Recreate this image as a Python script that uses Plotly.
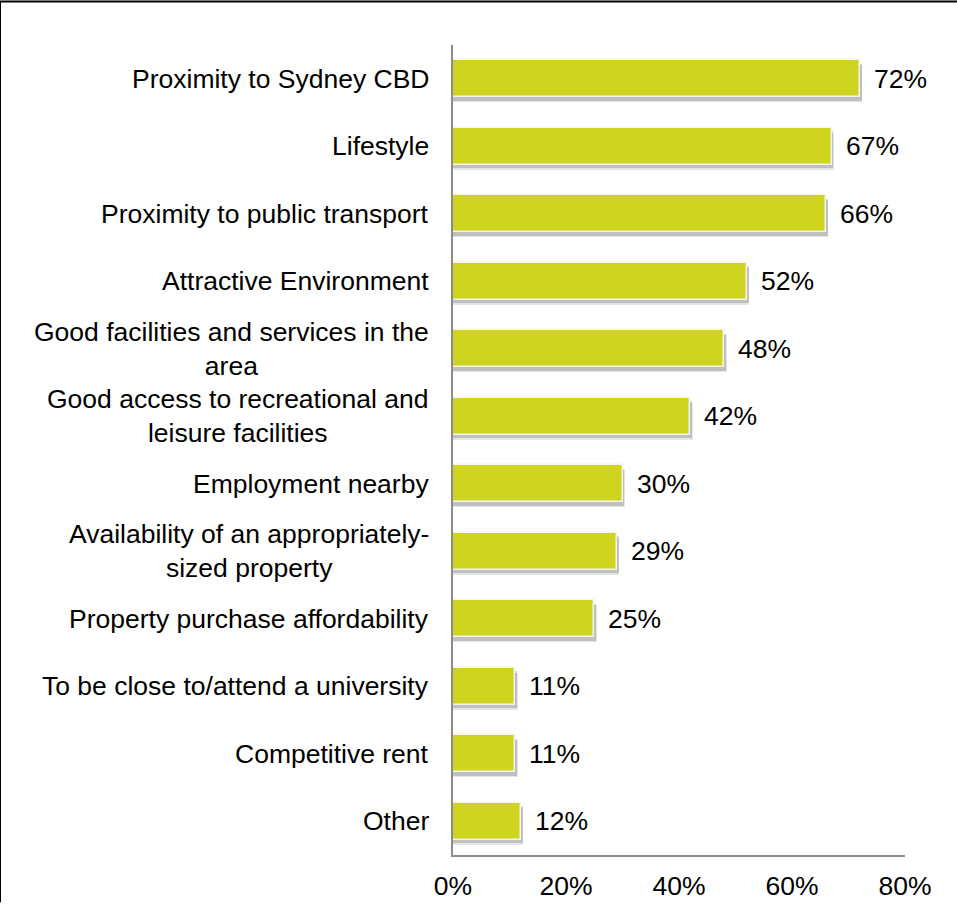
import plotly.graph_objects as go

# Reasons for choosing the area (share of respondents, %)
categories = [
    "Proximity to Sydney CBD",
    "Lifestyle",
    "Proximity to public transport",
    "Attractive Environment",
    "Good facilities and services in the<br>area",
    "Good access to recreational and<br>leisure facilities",
    "Employment nearby",
    "Availability of an appropriately-<br>sized property",
    "Property purchase affordability",
    "To be close to/attend a university",
    "Competitive rent",
    "Other",
]
values = [72, 67, 66, 52, 48, 42, 30, 29, 25, 11, 11, 12]
x_ticks = [0, 20, 40, 60, 80]
x_tick_labels = ["0%", "20%", "40%", "60%", "80%"]

BAR_COLOR = "#CFD420"
FONT = "Liberation Sans, Arial, sans-serif"
FS = 26.5
BAR_W = 0.55

fig = go.Figure()

# soft drop shadow under each bar (two layers for a faded edge)
for off, alpha, ext in [(0.075, 0.10, 0.45), (0.05, 0.16, 0.3)]:
    fig.add_trace(go.Bar(
        y=categories, x=[v + ext for v in values], orientation="h",
        width=BAR_W, offset=-BAR_W / 2 + off,
        marker=dict(color=f"rgba(0,0,0,{alpha})", line=dict(width=0)),
        hoverinfo="skip", showlegend=False,
    ))

fig.add_trace(go.Bar(
    y=categories, x=values, orientation="h",
    width=BAR_W, offset=-BAR_W / 2,
    marker=dict(color=BAR_COLOR, line=dict(color="#F4F4EC", width=1.5)),
    showlegend=False,
))

annotations = []
for cat, v in zip(categories, values):
    annotations.append(dict(
        x=v, y=cat, xref="x", yref="y", text=f"{v}%", showarrow=False,
        xanchor="left", yanchor="middle", xshift=12,
        font=dict(family=FONT, size=FS, color="#000"),
    ))
    annotations.append(dict(
        x=0, y=cat, xref="paper", yref="y", text=cat, showarrow=False,
        xanchor="right", yanchor="middle", align="center", xshift=-22,
        font=dict(family=FONT, size=FS, color="#000"),
    ))

# outer frame along the top and left edges of the figure
L, T, R, B = 453, 45, 905, 870
W, H = 957, 913
def px_to_paper(px, py):
    return (px - L) / (R - L), (B - py) / (B - T)
x_left, y_bot = px_to_paper(0.0, H + 5)
x_right, y_top = px_to_paper(W + 5, 0.75)
shapes = [dict(
    type="path", xref="paper", yref="paper",
    path=f"M {x_left} {y_bot} L {x_left} {y_top} L {x_right} {y_top}",
    line=dict(color="#000", width=2),
)]

fig.update_layout(
    width=W, height=H,
    margin=dict(l=L, r=W - R, t=T, b=H - B),
    plot_bgcolor="white", paper_bgcolor="white",
    barmode="overlay", bargap=0,
    annotations=annotations, shapes=shapes,
    font=dict(family=FONT, size=FS, color="#000"),
    xaxis=dict(
        range=[0, 80], tickvals=x_ticks, ticktext=x_tick_labels,
        showgrid=False, zeroline=False, showline=True,
        linecolor="#8C8C8C", linewidth=2, ticks="", ticklabelstandoff=6,
        tickfont=dict(family=FONT, size=FS, color="#000"),
    ),
    yaxis=dict(
        autorange="reversed", showticklabels=False, showgrid=False,
        zeroline=False, showline=True, linecolor="#8C8C8C", linewidth=2,
        ticks="",
    ),
)

fig.write_html("out.html")
